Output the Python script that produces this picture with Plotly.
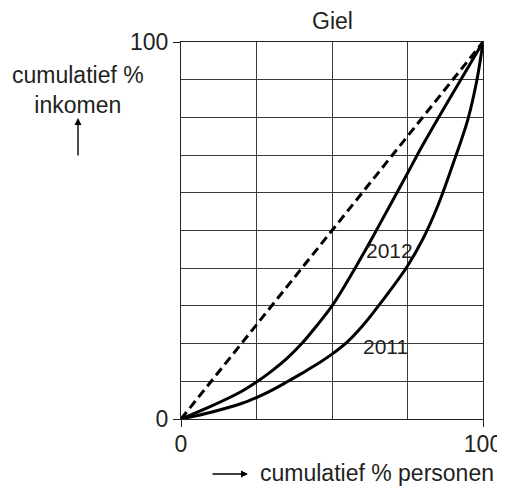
import plotly.graph_objects as go

# Data (cumulatief % personen -> cumulatief % inkomen)
personen_2012 = [0, 10, 20, 25, 30, 35, 40, 45, 50, 55, 60, 65, 70, 75, 80, 85, 90, 95, 100]
inkomen_2012 = [0, 3.4, 7.3, 9.8, 12.7, 16, 20, 24.8, 30, 36.4, 43.3, 50.5, 57.8, 65.2, 72.6, 79.6, 86.4, 93.2, 100]

personen_2011 = [0, 10, 20, 25, 30, 35, 40, 45, 50, 55, 60, 65, 70, 75, 80, 85, 90, 95, 98, 100]
inkomen_2011 = [0, 1.8, 4.1, 5.7, 7.6, 9.8, 12.1, 14.5, 17.2, 20.4, 24.6, 29.6, 34.9, 40.6, 47.6, 56.5, 67.5, 79.5, 90, 100]

personen_gelijk = [0, 100]
inkomen_gelijk = [0, 100]

tick_vals = [0, 100]
tick_text = ["0", "100"]

label_2012 = ("2012", 68.9, 44.6)
label_2011 = ("2011", 67.8, 19.2)

FONT = "Liberation Sans, Arial, sans-serif"
TXT = "#231f20"

fig = go.Figure()
fig.add_trace(go.Scatter(x=personen_gelijk, y=inkomen_gelijk, mode="lines",
                         line=dict(color="black", width=3, dash="9px,5px"),
                         hoverinfo="skip"))
fig.add_trace(go.Scatter(x=personen_2012, y=inkomen_2012, mode="lines",
                         line=dict(color="black", width=3, shape="spline", smoothing=1.0)))
fig.add_trace(go.Scatter(x=personen_2011, y=inkomen_2011, mode="lines",
                         line=dict(color="black", width=3, shape="spline", smoothing=1.0)))

axis_common = dict(
    range=[0, 100], tickmode="array", tickvals=tick_vals, ticktext=tick_text,
    ticks="outside", ticklen=7, tickwidth=1.3, tickcolor="#222",
    showline=True, linecolor="#222", linewidth=1.3, mirror=True,
    showgrid=False, zeroline=False,
    tickfont=dict(family=FONT, size=23, color=TXT),
    fixedrange=True,
)

fig.update_xaxes(**axis_common, ticklabelstandoff=-3,
                 minor=dict(tick0=0, dtick=25, showgrid=True, gridcolor="#3a3a3a", gridwidth=1.1, ticks=""))
fig.update_yaxes(**axis_common,
                 minor=dict(tick0=0, dtick=10, showgrid=True, gridcolor="#3a3a3a", gridwidth=1.1, ticks=""))

OFF = 8  # page body margin
W, H = 505 - OFF, 490 - OFF
L, T = 181 - OFF, 42 - OFF
R = W - (483 - OFF)
B = H - (419 - OFF)
pw, ph = W - L - R, H - T - B


def px(x):
    return (x - OFF - L) / pw


def py(y):
    return (H - B - (y - OFF)) / ph


annotations = [
    dict(text="Giel", xref="x", yref="paper", x=50, y=py(21), showarrow=False,
         xanchor="center", yanchor="middle", font=dict(family=FONT, size=23, color=TXT)),
    dict(text="cumulatief %<br>inkomen", xref="paper", yref="paper", x=px(78), y=py(90),
         showarrow=False, xanchor="center", yanchor="middle", align="center",
         font=dict(family=FONT, size=23, color=TXT)),
    dict(text="", xref="paper", yref="paper", x=px(78), y=py(118), ax=0, ay=39,
         showarrow=True, arrowhead=2, arrowsize=1, arrowwidth=1.4, arrowcolor="black"),
    dict(text="cumulatief % personen", xref="paper", yref="paper", x=px(377), y=py(473),
         showarrow=False, xanchor="center", yanchor="middle",
         font=dict(family=FONT, size=23, color=TXT)),
    dict(text="", xref="paper", yref="paper", x=px(248), y=py(474), ax=-37, ay=0,
         showarrow=True, arrowhead=2, arrowsize=1, arrowwidth=1.4, arrowcolor="black"),
]
for txt, xv, yv in (label_2012, label_2011):
    annotations.append(dict(text=txt, x=xv, y=yv, xref="x", yref="y", showarrow=False,
                            xanchor="center", yanchor="middle",
                            font=dict(family=FONT, size=21, color=TXT)))

fig.update_layout(
    width=W, height=H,
    margin=dict(l=L, r=R, t=T, b=B, autoexpand=False),
    paper_bgcolor="white", plot_bgcolor="white",
    showlegend=False,
    annotations=annotations,
)

fig.write_html("out.html")
